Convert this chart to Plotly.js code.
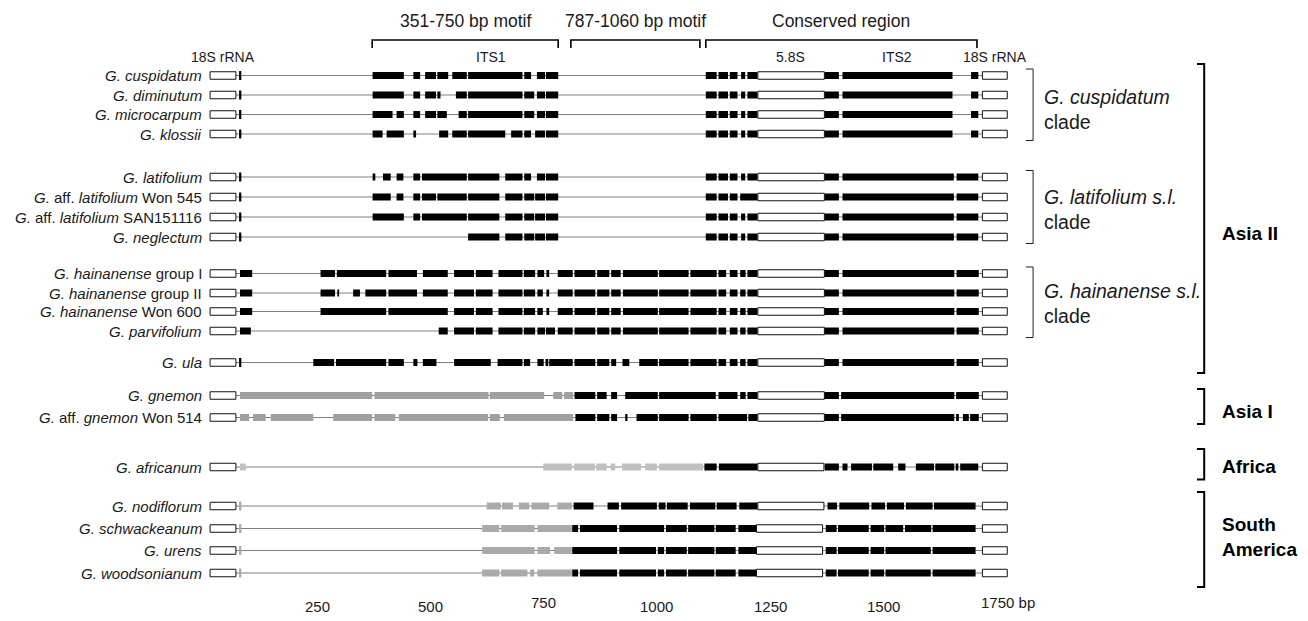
<!DOCTYPE html>
<html><head><meta charset="utf-8">
<script src="https://cdn.plot.ly/plotly-3.0.1.min.js"></script>
<style>html,body{margin:0;padding:0;background:#fff;}#chart{width:1308px;height:621px;}</style>
</head><body><div id="chart"></div>
<script>
// ---------------- DATA (positions in bp) ----------------
const species = [
  "<i>G. cuspidatum</i>", "<i>G. diminutum</i>", "<i>G. microcarpum</i>", "<i>G. klossii</i>",
  "<i>G. latifolium</i>", "<i>G.</i> aff. <i>latifolium</i> Won 545", "<i>G.</i> aff. <i>latifolium</i> SAN151116", "<i>G. neglectum</i>",
  "<i>G. hainanense</i> group I", "<i>G. hainanense</i> group II", "<i>G. hainanense</i> Won 600", "<i>G. parvifolium</i>",
  "<i>G. ula</i>", "<i>G. gnemon</i>", "<i>G.</i> aff. <i>gnemon</i> Won 514", "<i>G. africanum</i>",
  "<i>G. nodiflorum</i>", "<i>G. schwackeanum</i>", "<i>G. urens</i>", "<i>G. woodsonianum</i>"
];
const left18S = [13, 70];
const right18S = [1719, 1774];
const smallTick = [77, 82];
const tickKind = ["black","black","black","black","black","black","black","black",
  null,null,null,null,"black",null,null,null,"gray","gray","gray","gray"];
const box58 = [
  [1223,1370],[1223,1370],[1223,1370],[1223,1370],[1223,1370],[1223,1370],[1223,1370],[1223,1370],
  [1223,1370],[1223,1370],[1223,1370],[1223,1370],[1223,1370],[1223,1370],[1223,1370],[1223,1369],
  [1223,1369],[1220,1366],[1220,1366],[1220,1366]
];
const consCusp = [[1108,1132],[1136,1157],[1161,1178],[1186,1195],[1200,1222],[1371,1402],[1410,1653],[1694,1710]];
const consLati = [[1108,1132],[1136,1157],[1161,1178],[1186,1195],[1200,1222],[1371,1402],[1410,1656],[1662,1710]];
const consWon545 = [[1108,1132],[1136,1157],[1161,1178],[1184,1222],[1371,1402],[1410,1656],[1662,1710]];
const hainTail = [[818,864],[868,895],[899,920],[925,1002],[1005,1070],[1074,1132],[1136,1153],[1161,1178],[1184,1196],[1200,1222],[1370,1402],[1410,1657],[1662,1711]];
const saTail = [[1020,1066],[1069,1127],[1130,1174],[1180,1219],[1373,1397],[1400,1468],[1472,1502]];

const blackSegs = [
  [[372,441],[462,477],[488,512],[515,539],[548,580],[583,703],[707,722],[735,753],[755,782]].concat(consCusp),
  [[372,441],[462,477],[488,512],[515,522],[556,580],[583,703],[707,729],[735,753],[755,782]].concat(consCusp),
  [[372,416],[425,441],[462,477],[488,512],[515,536],[562,580],[583,703],[707,729],[735,753],[755,782]].concat(consCusp),
  [[372,394],[403,441],[462,468],[519,539],[548,580],[583,665],[678,703],[707,722],[731,753],[755,782]].concat(consCusp),
  [[372,378],[395,412],[425,440],[462,477],[481,580],[583,652],[665,703],[707,722],[735,753],[755,782]].concat(consLati),
  [[372,412],[425,440],[462,477],[481,512],[515,580],[583,652],[665,703],[707,729],[731,753],[755,782]].concat(consWon545),
  [[372,441],[462,477],[481,580],[583,652],[665,703],[707,729],[731,753],[755,782]].concat(consLati),
  [[583,652],[665,703],[707,729],[731,753],[755,782]].concat(consLati),
  [[79,106],[257,289],[293,402],[407,470],[483,538],[552,596],[600,637],[650,703],[706,731],[736,751],[756,762],[781,814]].concat(hainTail),
  [[79,106],[257,289],[294,298],[329,344],[356,402],[407,470],[483,538],[552,596],[600,637],[650,703],[706,731],[736,748],[756,762],[781,814]].concat(hainTail),
  [[79,106],[257,402],[407,538],[552,596],[600,637],[650,703],[706,731],[736,748],[756,762],[781,814]].concat(hainTail),
  [[79,103],[518,538],[552,596],[600,637],[650,703],[706,731],[736,753],[755,775],[781,814]].concat(hainTail),
  [[241,287],[291,402],[407,441],[462,471],[483,513],[552,633],[648,703],[706,720],[736,750],[754,760],[762,814],[818,864],[868,895],[899,910],[924,939],[961,1002],[1005,1070],[1074,1132],[1136,1153],[1161,1178],[1184,1196],[1200,1222],[1370,1402],[1410,1657],[1662,1711]],
  [[818,864],[868,889],[899,912],[930,1002],[1005,1130],[1136,1178],[1184,1196],[1200,1222],[1370,1402],[1407,1657],[1661,1711]],
  [[820,864],[868,895],[899,912],[930,935],[955,1002],[1005,1070],[1074,1132],[1136,1199],[1202,1222],[1370,1402],[1407,1657],[1661,1667],[1676,1689],[1692,1711]],
  [[1105,1132],[1137,1222],[1371,1402],[1410,1421],[1429,1475],[1478,1522],[1533,1549],[1572,1612],[1615,1657],[1660,1666],[1670,1710]],
  [[816,860],[891,916],[921,1000],[1004,1019],[1022,1068],[1073,1129],[1132,1176],[1182,1222],[1377,1398],[1403,1469],[1474,1504],[1508,1546],[1550,1609],[1612,1704]],
  [[813,826],[830,912],[917,1016]].concat(saTail, [[1505,1544],[1548,1606],[1609,1704]]),
  [[813,912],[917,998],[1002,1016]].concat(saTail, [[1505,1605],[1609,1704]]),
  [[813,826],[830,912],[917,998],[1002,1016]].concat(saTail, [[1505,1605],[1609,1704]])
];
const graySegs = [
  [],[],[],[],[],[],[],[],[],[],[],[],[],
  [[79,371],[376,628],[631,751],[771,791],[795,815]],
  [[79,99],[108,136],[147,241],[285,371],[376,422],[430,627],[631,653],[662,815]],
  [[79,92],[749,812],[817,863],[866,889],[898,908],[923,965],[974,1000],[1005,1102]],
  [[624,655],[658,682],[695,718],[723,762],[780,812]],
  [[614,652],[656,730],[736,812]],
  [[614,730],[736,764],[773,812]],
  [[614,652],[656,714],[720,729],[736,812]]
];
const motifStart = [371, 810, 1108];
const motifEnd = [782, 1095, 1707];
const motifLabels = ["351-750 bp motif", "787-1060 bp motif", "Conserved region"];
const regionLabels = ["18S rRNA", "ITS1", "5.8S", "ITS2", "18S rRNA"];
const tickVals = [250, 500, 750, 1000, 1250, 1500, 1750];
const tickText = ["250", "500", "750", "1000", "1250", "1500", "1750 bp"];
const cladeLabels = ["<i>G. cuspidatum</i><br>clade", "<i>G. latifolium s.l.</i><br>clade", "<i>G. hainanense s.l.</i><br>clade"];
const cladeRows = [[0,3],[4,7],[8,11]];
const geoLabels = ["<b>Asia II</b>", "<b>Asia I</b>", "<b>Africa</b>", "<b>South<br>America</b>"];

// ---------------- LAYOUT / STYLE ----------------
const rowY = [75.5, 95, 114.5, 134, 177, 197, 217, 237, 273.5, 293, 311.5, 331, 362.5, 395.5, 417.5, 467, 506, 528.5, 550.5, 573];
const grayColorByRow = r => (r === 15 ? "#c0c0c0" : (r >= 16 ? "#aaaaaa" : "#a0a0a0"));
const regionLabelX = [41, 633, 1296, 1530, 1746];
const geoBracketY = [[64, 373], [389, 424], [449, 479.5], [492, 587]];
const geoLabelY = [233, 411.5, 466.5, 537];
const cladeLabelY = [109, 209, 303.5];
const FONT = "Liberation Sans, Arial, Helvetica, sans-serif";

const traces = [];
// backbone lines
traces.push({
  type: "bar", orientation: "h", hoverinfo: "skip",
  y: rowY, base: rowY.map(() => left18S[1]), x: rowY.map(() => right18S[0] - left18S[1]),
  width: 1.2, marker: {color: "#808080", line: {width: 0}}
});
// gray segments
(function(){
  const y=[],b=[],x=[],c=[];
  graySegs.forEach((segs,r)=>segs.forEach(s=>{y.push(rowY[r]);b.push(s[0]);x.push(s[1]-s[0]);c.push(grayColorByRow(r));}));
  traces.push({type:"bar",orientation:"h",hoverinfo:"skip",y:y,base:b,x:x,width:7,marker:{color:c,line:{width:0}}});
})();
// black segments
(function(){
  const y=[],b=[],x=[];
  blackSegs.forEach((segs,r)=>segs.forEach(s=>{y.push(rowY[r]);b.push(s[0]);x.push(s[1]-s[0]);}));
  traces.push({type:"bar",orientation:"h",hoverinfo:"skip",y:y,base:b,x:x,width:7,marker:{color:"#000",line:{width:0}}});
})();
// small ticks
(function(){
  const y=[],b=[],x=[],c=[];
  tickKind.forEach((k,r)=>{ if(!k) return; y.push(rowY[r]); b.push(smallTick[0]); x.push(smallTick[1]-smallTick[0]); c.push(k==="black"?"#000":grayColorByRow(r)); });
  traces.push({type:"bar",orientation:"h",hoverinfo:"skip",y:y,base:b,x:x,width:9,marker:{color:c,line:{width:0}}});
})();
// white boxes (18S, 5.8S, 18S)
(function(){
  const y=[],b=[],x=[];
  rowY.forEach((yy,r)=>{
    [left18S, box58[r], right18S].forEach(s=>{y.push(yy);b.push(s[0]);x.push(s[1]-s[0]);});
  });
  traces.push({type:"bar",orientation:"h",hoverinfo:"skip",y:y,base:b,x:x,width:7.5,marker:{color:"#fff",line:{width:1,color:"#111"}}});
})();

const annotations = [];
const shapes = [];
species.forEach((s,r)=>annotations.push({x:0,y:rowY[r],xref:"x",yref:"y",text:s,showarrow:false,xanchor:"right",yanchor:"middle",font:{family:FONT,size:15,color:"#1a1a1a"}}));
motifLabels.forEach((t,i)=>{
  annotations.push({x:(motifStart[i]+motifEnd[i])/2,y:21,xref:"x",yref:"y",text:t,showarrow:false,xanchor:"center",yanchor:"middle",font:{family:FONT,size:17.5,color:"#1a1a1a"}});
  shapes.push({type:"path",xref:"x",yref:"y",path:`M ${motifStart[i]} 48 L ${motifStart[i]} 40 L ${motifEnd[i]} 40 L ${motifEnd[i]} 48`,line:{color:"#000",width:1.6}});
});
regionLabels.forEach((t,i)=>annotations.push({x:regionLabelX[i],y:57,xref:"x",yref:"y",text:t,showarrow:false,xanchor:"center",yanchor:"middle",font:{family:FONT,size:14,color:"#1a1a1a"}}));
tickVals.forEach((v,i)=>{
  const raised = (v===750||v===1750);
  annotations.push({x:v,y:raised?602:606,xref:"x",yref:"y",text:tickText[i],showarrow:false,
    xanchor: v===1750?"left":"center", xshift: v===1750?-17:0, yanchor:"middle",font:{family:FONT,size:15,color:"#1a1a1a"}});
});
cladeRows.forEach((cr,i)=>{
  const top=rowY[cr[0]]-6.5, bot=rowY[cr[1]]+6.5;
  shapes.push({type:"path",xref:"x",yref:"y",path:`M 1815 ${top} L 1831 ${top} L 1831 ${bot} L 1815 ${bot}`,line:{color:"#222",width:1}});
  annotations.push({x:1850,y:cladeLabelY[i],xref:"x",yref:"y",text:cladeLabels[i],showarrow:false,xanchor:"left",yanchor:"middle",align:"left",font:{family:FONT,size:19.5,color:"#1a1a1a"}});
});
geoBracketY.forEach((gy,i)=>{
  shapes.push({type:"path",xref:"x",yref:"y",path:`M 2193 ${gy[0]} L 2209 ${gy[0]} L 2209 ${gy[1]} L 2193 ${gy[1]}`,line:{color:"#000",width:2}});
  annotations.push({x:2244,y:geoLabelY[i],xref:"x",yref:"y",text:geoLabels[i],showarrow:false,xanchor:"left",yanchor:"middle",align:"left",font:{family:FONT,size:19,color:"#000"}});
});

const layout = {
  width:1308, height:621, margin:{l:0,r:0,t:0,b:0}, paper_bgcolor:"#fff", plot_bgcolor:"#fff",
  showlegend:false, barmode:"overlay",
  xaxis:{range:[-451.1,2438.3], visible:false, fixedrange:true},
  yaxis:{range:[621,0], autorange:false, visible:false, fixedrange:true},
  annotations:annotations, shapes:shapes
};
Plotly.newPlot("chart", traces, layout, {staticPlot:true, displayModeBar:false});
</script></body></html>
